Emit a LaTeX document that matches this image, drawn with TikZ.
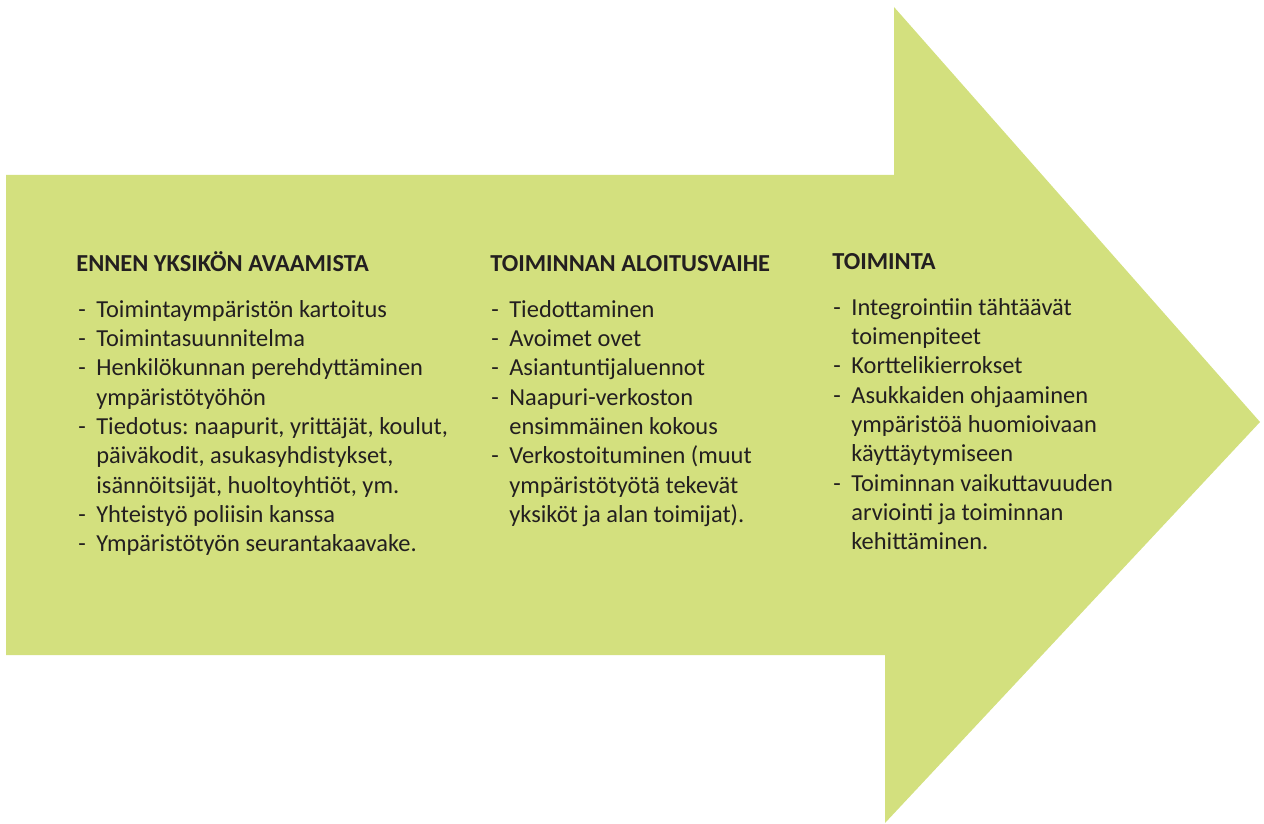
\documentclass[tikz,border=0pt]{standalone}
\usepackage{fontspec}
\setmainfont{Carlito}
\frenchspacing
\definecolor{arrowgreen}{RGB}{211,224,126}
\definecolor{txt}{RGB}{35,31,32}
\tikzset{
  head/.style={anchor=base west, inner sep=0pt, font=\fontsize{13.9}{16.7}\selectfont\bfseries, text=txt},
  items/.style={anchor=base west, inner sep=0pt, font=\fontsize{13.9}{16.7}\selectfont, text=txt},
}
\newcommand{\itemtab}[1]{\begin{tabular}[t]{@{}l@{\hspace{6pt}}l@{}}#1\end{tabular}}
\begin{document}
\begin{tikzpicture}[x=0.02cm,y=-0.02cm]
\useasboundingbox (0,0) rectangle (1264,824);
\fill[arrowgreen] (6,175) -- (894,175) -- (894,7) -- (1260,422) -- (885,823) -- (885,655) -- (6,655) -- cycle;
\node[head] (h1) at (76,272) {ENNEN YKSIKÖN AVAAMISTA};
\node[items] (l1) at (78,317) {\itemtab{
-& Toimintaympäristön kartoitus\\
-& Toimintasuunnitelma\\
-& Henkilökunnan perehdyttäminen\\
 & ympäristötyöhön\\
-& Tiedotus: naapurit, yrittäjät, koulut,\\
 & päiväkodit, asukasyhdistykset,\\
 & isännöitsijät, huoltoyhtiöt, ym.\\
-& Yhteistyö poliisin kanssa\\
-& Ympäristötyön seurantakaavake.}};
\node[head] (h2) at (490,272) {TOIMINNAN ALOITUSVAIHE};
\node[items] (l2) at (491,317) {\itemtab{
-& Tiedottaminen\\
-& Avoimet ovet\\
-& Asiantuntijaluennot\\
-& Naapuri-verkoston\\
 & ensimmäinen kokous\\
-& Verkostoituminen (muut\\
 & ympäristötyötä tekevät\\
 & yksiköt ja alan toimijat).}};
\node[head] (h3) at (832,270) {TOIMINTA};
\node[items] (l3) at (833,315) {\itemtab{
-& Integrointiin tähtäävät\\
 & toimenpiteet\\
-& Korttelikierrokset\\
-& Asukkaiden ohjaaminen\\
 & ympäristöä huomioivaan\\
 & käyttäytymiseen\\
-& Toiminnan vaikuttavuuden\\
 & arviointi ja toiminnan\\
 & kehittäminen.}};
\end{tikzpicture}
\end{document}
